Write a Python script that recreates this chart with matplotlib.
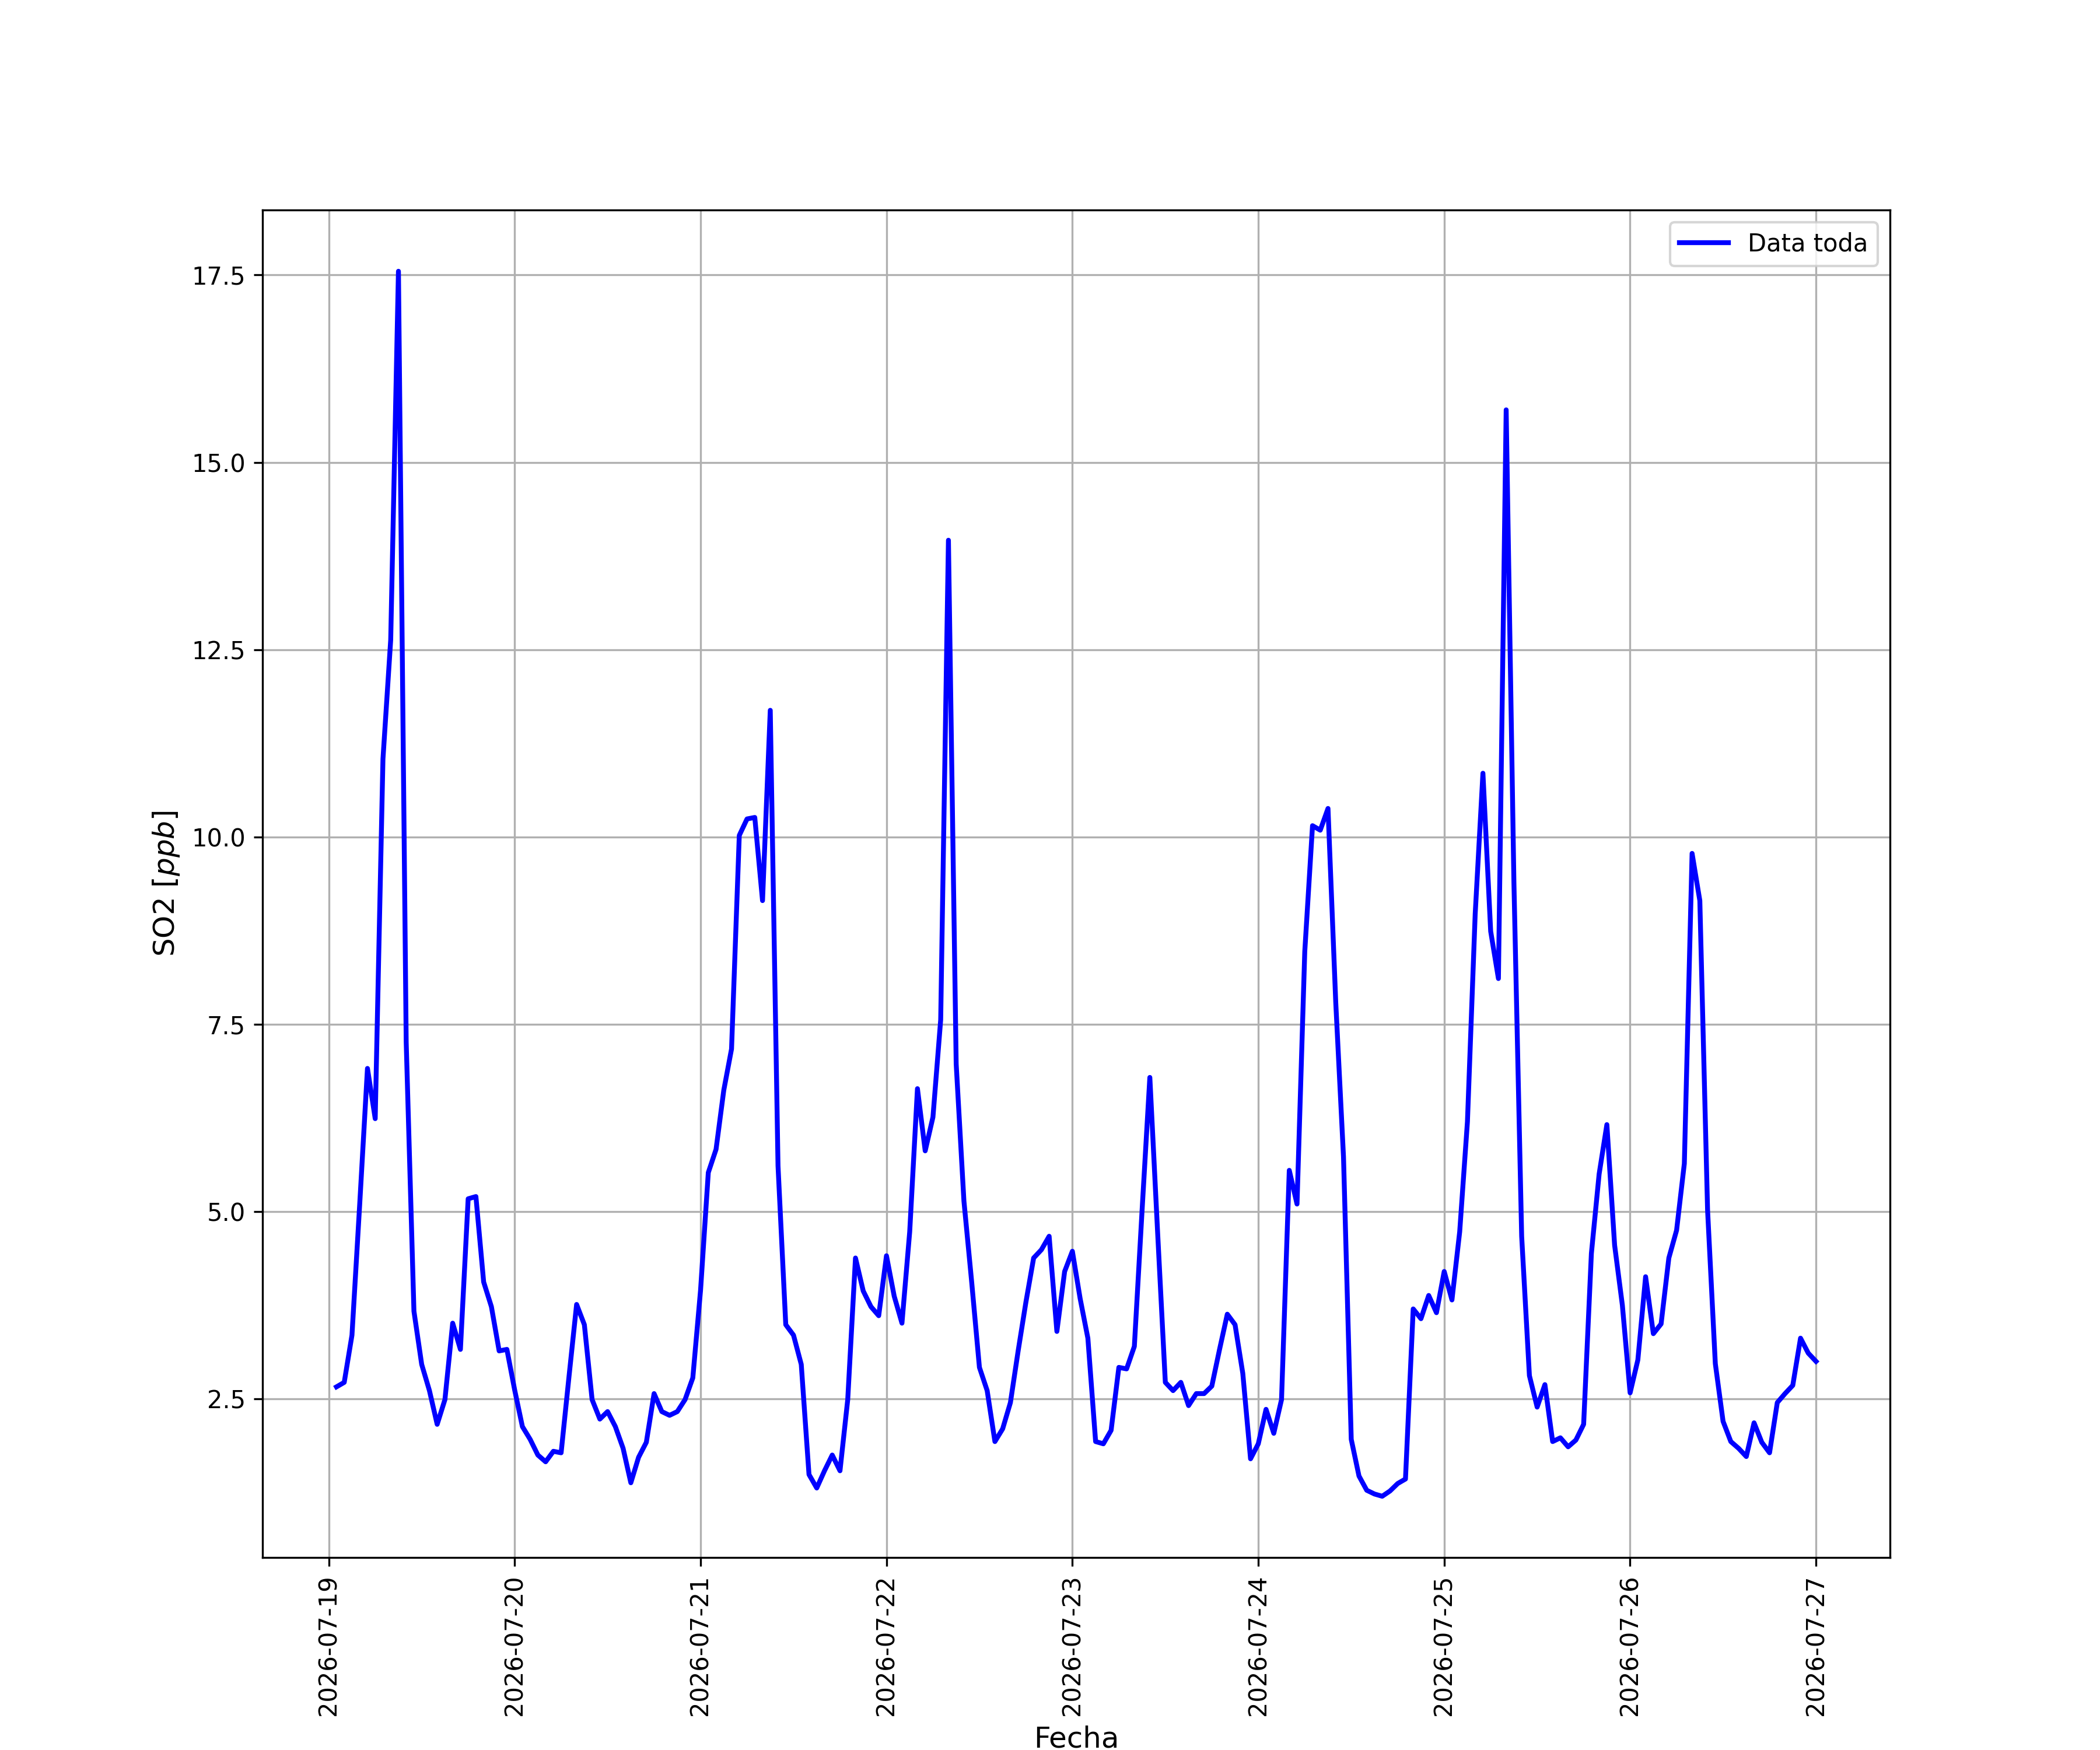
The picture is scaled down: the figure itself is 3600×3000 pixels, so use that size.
import matplotlib
matplotlib.use("Agg")
import matplotlib.pyplot as plt
import matplotlib.dates as mdates
import matplotlib.ticker as mticker
import numpy as np
import pandas as pd

start_time = "2026-07-19 01:00"
series_label = "Data toda"
x_label = "Fecha"
y_label = "SO2 $[ppb]$"

day1 = [2.66, 2.72, 3.35, 5.10, 6.91, 6.24, 11.04, 12.63, 17.55, 7.26, 3.67, 2.96,
        2.61, 2.16, 2.49, 3.51, 3.16, 5.17, 5.20, 4.06, 3.73, 3.14, 3.16, 2.62]
day2 = [2.13, 1.96, 1.75, 1.66, 1.80, 1.78, 2.78, 3.76, 3.49, 2.49, 2.23, 2.33,
        2.13, 1.84, 1.38, 1.72, 1.92, 2.57, 2.33, 2.28, 2.33, 2.49, 2.78, 3.95]
day3 = [5.52, 5.83, 6.62, 7.17, 10.02, 10.24, 10.26, 9.15, 11.69, 5.61, 3.49, 3.35,
        2.96, 1.49, 1.31, 1.54, 1.75, 1.54, 2.49, 4.38, 3.94, 3.73, 3.61, 4.41]
day4 = [3.87, 3.51, 4.73, 6.64, 5.81, 6.26, 7.56, 13.96, 6.97, 5.14, 4.06, 2.92,
        2.61, 1.93, 2.10, 2.45, 3.14, 3.79, 4.38, 4.49, 4.67, 3.40, 4.20, 4.47]
day5 = [3.84, 3.31, 1.93, 1.90, 2.08, 2.92, 2.90, 3.20, 5.02, 6.79, 4.73, 2.72,
        2.61, 2.72, 2.41, 2.57, 2.57, 2.67, 3.16, 3.63, 3.49, 2.84, 1.70, 1.90]
day6 = [2.36, 2.04, 2.49, 5.55, 5.10, 8.47, 10.15, 10.09, 10.38, 7.79, 5.73, 1.96,
        1.47, 1.28, 1.23, 1.20, 1.27, 1.37, 1.43, 3.70, 3.57, 3.88, 3.65, 4.20]
day7 = [3.82, 4.73, 6.20, 8.97, 10.85, 8.74, 8.11, 15.70, 9.39, 4.67, 2.81, 2.39,
        2.69, 1.93, 1.98, 1.86, 1.95, 2.16, 4.44, 5.50, 6.16, 4.55, 3.75, 2.58]
day8 = [3.02, 4.13, 3.37, 3.50, 4.38, 4.75, 5.64, 9.78, 9.15, 5.02, 2.97, 2.20,
        1.93, 1.84, 1.73, 2.18, 1.92, 1.78, 2.45, 2.57, 2.68, 3.31, 3.11, 3.00]

values = np.array(day1 + day2 + day3 + day4 + day5 + day6 + day7 + day8)
times = pd.date_range(start=start_time, periods=len(values), freq="h")

fig, ax = plt.subplots(figsize=(12, 10), dpi=300)
ax.plot(times, values, color="blue", linewidth=2, label=series_label)
ax.set_xlabel(x_label, fontsize=12)
ax.set_ylabel(y_label, fontsize=12)
ax.xaxis.set_major_locator(mdates.DayLocator())
ax.xaxis.set_major_formatter(mdates.DateFormatter("%Y-%m-%d"))
ax.yaxis.set_major_locator(mticker.MultipleLocator(2.5))
plt.setp(ax.get_xticklabels(), rotation=90)
ax.grid(True)
ax.legend(loc="upper right")
fig.savefig("out.png", dpi=300)
